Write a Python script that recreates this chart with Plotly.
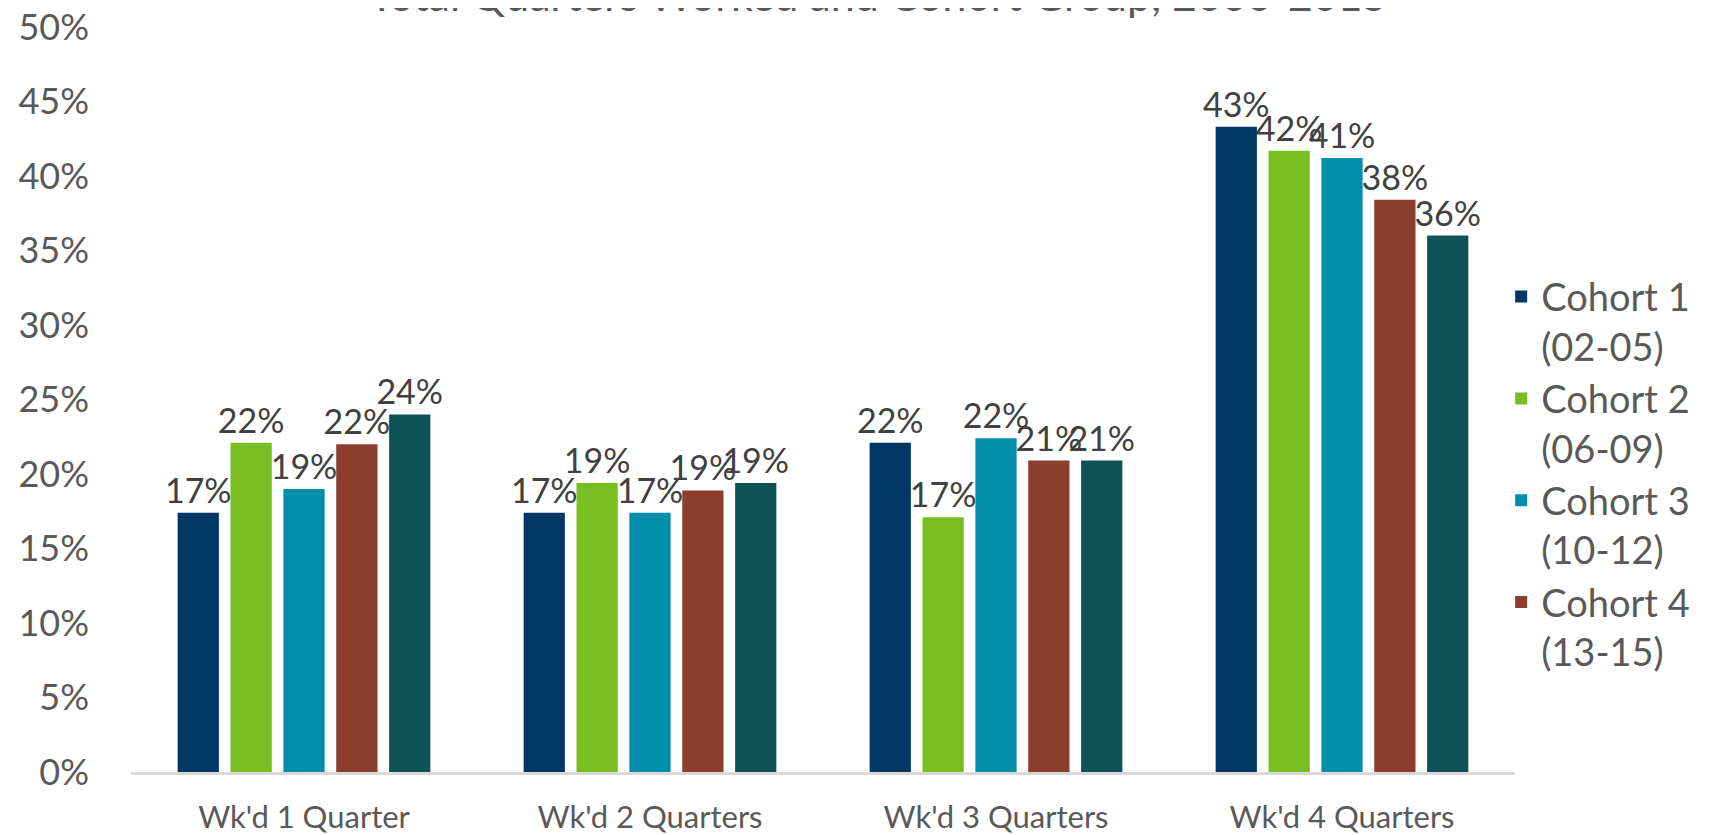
import plotly.graph_objects as go

# categories and series
categories = ["Wk'd 1 Quarter", "Wk'd 2 Quarters", "Wk'd 3 Quarters", "Wk'd 4 Quarters"]

cohort_names = ["Cohort 1<br>(02-05)", "Cohort 2<br>(06-09)", "Cohort 3<br>(10-12)",
                "Cohort 4<br>(13-15)", "Cohort 5"]
cohort_1 = [0.174, 0.174, 0.221, 0.433]
cohort_2 = [0.221, 0.194, 0.171, 0.417]
cohort_3 = [0.190, 0.174, 0.224, 0.412]
cohort_4 = [0.220, 0.189, 0.209, 0.384]
cohort_5 = [0.240, 0.194, 0.209, 0.360]

colors = ['#003764', '#78BE20', '#008EAA', '#8B3D2E', '#0E5257']
series = [cohort_1, cohort_2, cohort_3, cohort_4, cohort_5]

chart_title = 'Total Quarters Worked and Cohort Group, 2000-2015'

font_family = "Lato, 'Open Sans', sans-serif"

fig = go.Figure()

for i, vals in enumerate(series):
    fig.add_trace(
        go.Bar(
            x=categories,
            y=vals,
            name=cohort_names[i],
            marker=dict(color=colors[i], line=dict(width=0)),
            texttemplate='%{y:.0%}',
            textposition='outside',
            textfont=dict(size=34, color='#404040', family=font_family),
            constraintext='none',
            cliponaxis=False,
            showlegend=(i < 4),
        )
    )

# title sits mostly above the top edge, as in the original
fig.add_annotation(
    text=chart_title,
    xref='paper', yref='paper',
    x=0.54, y=1.0,
    xanchor='center', yanchor='bottom',
    yshift=5,
    showarrow=False,
    font=dict(size=43, color='#595959', family=font_family),
)

# page body adds an 8px margin, so the figure is sized to fit inside the window
fig.update_layout(
    width=1706,
    height=827,
    barmode='group',
    bargap=0.236,
    bargroupgap=0.22,
    plot_bgcolor='white',
    paper_bgcolor='white',
    font=dict(family=font_family, color='#595959'),
    margin=dict(l=123, r=199, t=19, b=63, autoexpand=False),
    legend=dict(
        x=0.99, xanchor='left', xref='paper',
        y=0.68, yanchor='top',
        valign='top',
        font=dict(size=38, color='#595959', family=font_family),
        itemwidth=30,
        tracegroupgap=0,
        bgcolor='rgba(0,0,0,0)',
    ),
)

fig.update_yaxes(
    range=[0, 0.5],
    dtick=0.05,
    tickformat='.0%',
    showgrid=False,
    zeroline=False,
    showline=False,
    tickfont=dict(size=36, color='#595959'),
    ticks='',
    ticklabelstandoff=41,
    ticklabeloverflow='allow',
    automargin=False,
)

fig.update_xaxes(
    showline=True,
    linecolor='#d9d9d9',
    linewidth=3,
    ticks='',
    tickfont=dict(size=31, color='#595959'),
    ticklabelstandoff=16,
    automargin=False,
)

fig.write_html("out.html")
